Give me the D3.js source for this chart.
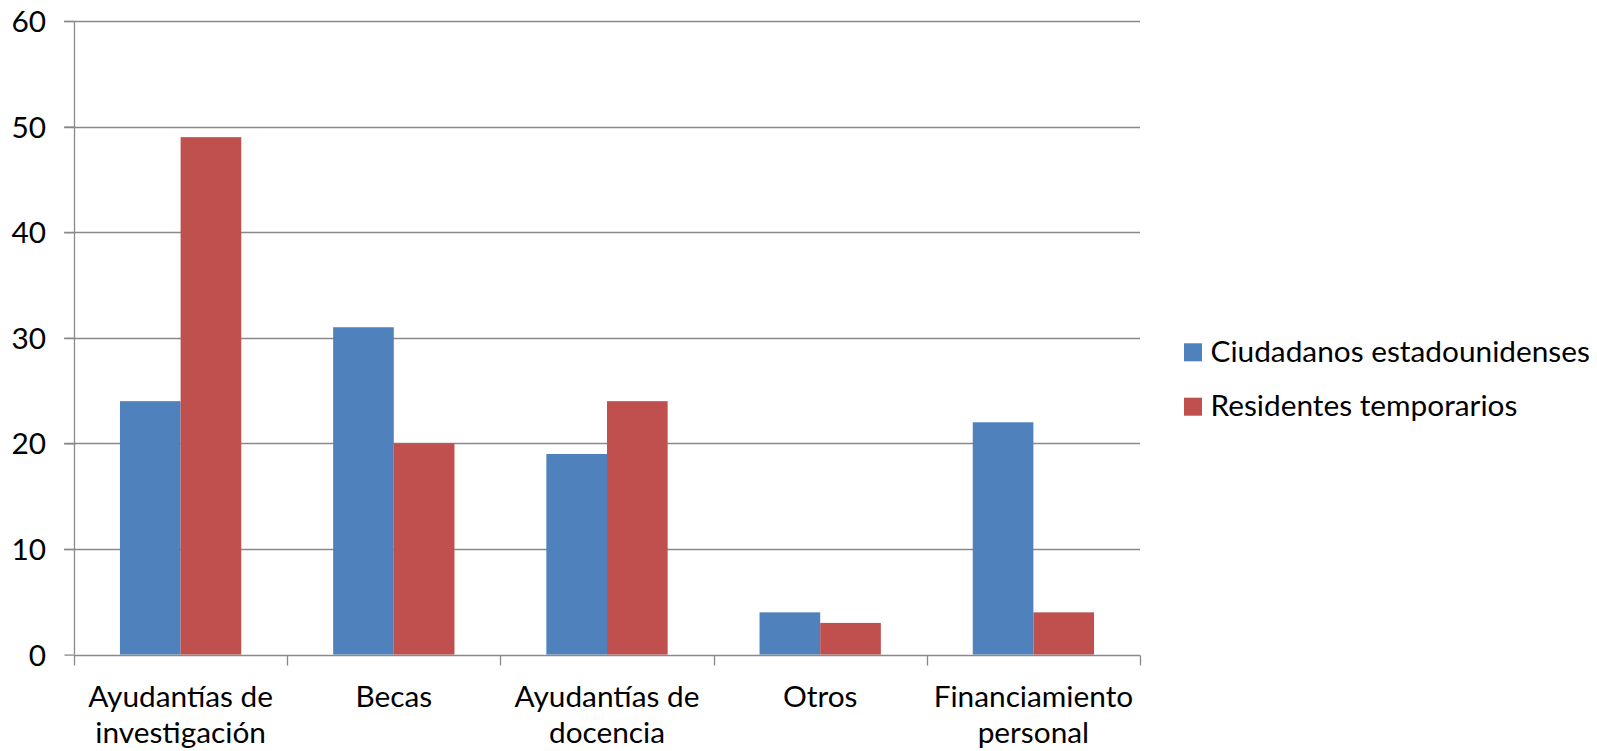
<!DOCTYPE html>
<html>
<head>
<meta charset="utf-8">
<script src="https://cdn.jsdelivr.net/npm/d3@7"></script>
<style>
  html, body { margin: 0; padding: 0; background: #fff; }
  svg text { font-family: Lato, "Open Sans", sans-serif; fill: #000; }
</style>
</head>
<body>
<svg id="chart" width="1597" height="751"></svg>
<script>
const categories = [
  ["Ayudantías de", "investigación"],
  ["Becas"],
  ["Ayudantías de", "docencia"],
  ["Otros"],
  ["Financiamiento", "personal"]
];
const seriesNames = ["Ciudadanos estadounidenses", "Residentes temporarios"];
const ciudadanos = [24, 31, 19, 4, 22];
const residentes = [49, 20, 24, 3, 4];
const yTicks = [0, 10, 20, 30, 40, 50, 60];
const colors = ["#4F81BD", "#C0504D"];

(function () {
const svg = d3.select("#chart");
const pLeft = 74, pRight = 1140, pTop = 21, pBottom = 654.6;
const fontSize = 29.8;

const x0 = d3.scaleBand().domain(d3.range(categories.length)).range([pLeft, pRight]).paddingInner(0).paddingOuter(0);
const y = d3.scaleLinear().domain([0, 60]).range([pBottom, pTop]);
const inner = 0.569; // fraction of band used by bars (gap width 150%)
const x1 = d3.scaleBand().domain([0, 1])
  .range([x0.bandwidth() * (1 - inner) / 2, x0.bandwidth() * (1 + inner) / 2]);

// gridlines
svg.append("g").selectAll("line").data(yTicks.filter(d => d > 0)).join("line")
  .attr("x1", pLeft - 10).attr("x2", pRight)
  .attr("y1", d => Math.round(y(d)) + 0.5).attr("y2", d => Math.round(y(d)) + 0.5)
  .attr("stroke", "#898989").attr("stroke-width", 1.3);

// bars
const data = [ciudadanos, residentes];
const g = svg.append("g");
categories.forEach((c, i) => {
  data.forEach((s, k) => {
    g.append("rect")
      .attr("x", x0(i) + x1(k))
      .attr("width", x1.bandwidth())
      .attr("y", y(s[i]))
      .attr("height", y(0) - y(s[i]))
      .attr("fill", colors[k]);
  });
});

// y axis
const yAxis = d3.axisLeft(y).tickValues(yTicks).tickSize(10).tickPadding(18.5).tickFormat(d3.format("d"));
const ya = svg.append("g").attr("transform", `translate(${pLeft + 0.5},0)`).call(yAxis);
ya.select(".domain").attr("stroke", "#898989").attr("stroke-width", 1.3).attr("d", `M0,${pTop}V${pBottom}`);
ya.selectAll(".tick line").attr("stroke", "#898989").attr("stroke-width", 1.3);
ya.selectAll(".tick text").attr("font-size", fontSize).attr("font-family", "Lato").attr("fill", "#000").attr("dy", "0.35em");

// x axis
const xTickScale = d3.scaleLinear().domain([0, categories.length]).range([pLeft, pRight]);
const xa = svg.append("g").attr("transform", `translate(0,${Math.round(pBottom) + 0.5})`);
xa.append("line").attr("x1", pLeft).attr("x2", pRight).attr("stroke", "#898989").attr("stroke-width", 1.3);
xa.selectAll("line.tk").data(d3.range(categories.length + 1)).join("line").attr("class", "tk")
  .attr("x1", d => Math.round(xTickScale(d)) + 0.5).attr("x2", d => Math.round(xTickScale(d)) + 0.5)
  .attr("y1", 0).attr("y2", 10).attr("stroke", "#898989").attr("stroke-width", 1.3);
const labels = svg.append("g");
categories.forEach((lines, i) => {
  const t = labels.append("text").attr("text-anchor", "middle").attr("font-size", fontSize)
    .attr("x", x0(i) + x0.bandwidth() / 2);
  lines.forEach((ln, j) => {
    t.append("tspan").attr("x", x0(i) + x0.bandwidth() / 2).attr("y", 707 + j * 36).text(ln);
  });
});

// legend
const legend = svg.append("g");
seriesNames.forEach((n, k) => {
  const cy = 352.3 + k * 54.4;
  legend.append("rect").attr("x", 1184).attr("y", cy - 9).attr("width", 18).attr("height", 18).attr("fill", colors[k]);
  legend.append("text").attr("x", 1210.5).attr("y", cy - 1).attr("dy", "0.35em").attr("font-size", fontSize).text(n);
});
})();
</script>
</body>
</html>
